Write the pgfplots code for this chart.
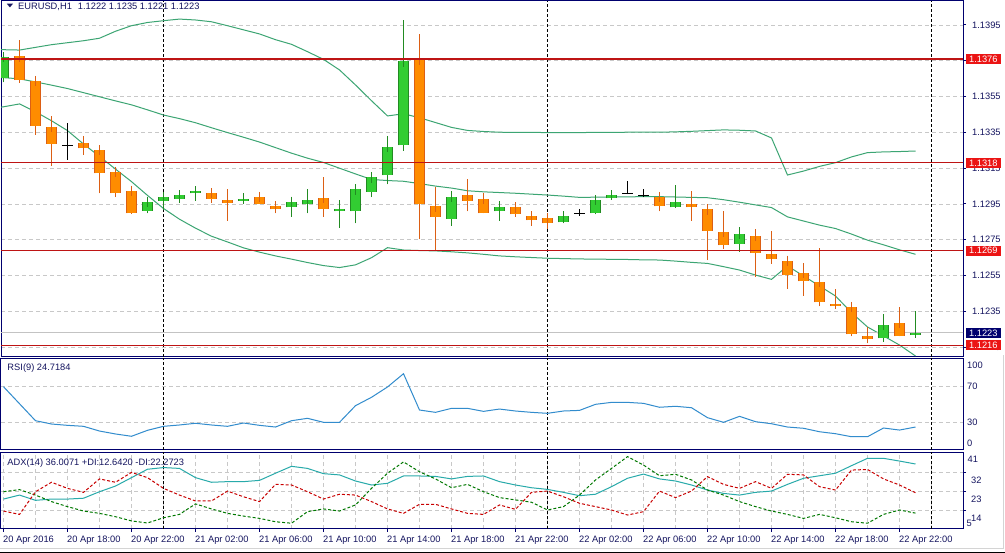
\documentclass[border=0pt]{standalone}
\usepackage{pgfplots}
\pgfplotsset{compat=1.18}
\usepackage{pgfplotstable}
\usepackage{fontspec}
\setmainfont{Liberation Sans}
\newcommand\cf{\fontsize{9.3}{11}\selectfont}
\definecolor{navyc}{RGB}{0,0,110}
\definecolor{txt}{RGB}{20,20,95}
\definecolor{gridc}{RGB}{200,200,200}
\definecolor{bullf}{RGB}{50,205,50}
\definecolor{bulll}{RGB}{34,139,34}
\definecolor{bearf}{RGB}{255,140,0}
\definecolor{bearl}{RGB}{220,95,20}
\definecolor{band}{RGB}{60,165,115}
\definecolor{lvl}{RGB}{190,20,20}
\definecolor{lblc}{RGB}{235,20,20}
\definecolor{rsic}{RGB}{50,140,205}
\definecolor{adxc}{RGB}{40,170,170}
\definecolor{pdic}{RGB}{0,120,0}
\definecolor{mdic}{RGB}{200,0,0}
\definecolor{bidc}{RGB}{195,195,195}
\definecolor{framec}{RGB}{212,212,212}

\pgfplotstableread{
i o h l c
0 1.13655 1.13790 1.13630 1.13770
9 1.12911 1.12980 1.12898 1.12962
10 1.12969 1.12991 1.12916 1.12988
11 1.12980 1.13013 1.12957 1.12999
12 1.13010 1.13051 1.12969 1.13021
15 1.12969 1.13010 1.12950 1.12980
18 1.12931 1.12977 1.12879 1.12962
19 1.12948 1.13032 1.12898 1.12973
21 1.12909 1.12973 1.12818 1.12922
22 1.12909 1.13035 1.12842 1.13032
23 1.13019 1.13121 1.12988 1.13099
24 1.13110 1.13330 1.13060 1.13267
25 1.13278 1.13978 1.13248 1.13747
28 1.12868 1.13021 1.12829 1.12988
31 1.12909 1.12950 1.12857 1.12935
35 1.12848 1.12898 1.12842 1.12881
37 1.12898 1.12984 1.12892 1.12971
38 1.12982 1.13021 1.12973 1.12999
42 1.12931 1.13054 1.12929 1.12959
46 1.12728 1.12824 1.12682 1.12782
55 1.12199 1.12335 1.12181 1.12274
57 1.12220 1.12350 1.12210 1.12230
}\bulltab

\pgfplotstableread{
i o h l c
1 1.13775 1.13866 1.13627 1.13642
2 1.13637 1.13648 1.13336 1.13388
3 1.13380 1.13441 1.13164 1.13287
5 1.13289 1.13330 1.13224 1.13261
6 1.13250 1.13270 1.13010 1.13121
7 1.13128 1.13135 1.12988 1.13010
8 1.13023 1.13025 1.12896 1.12898
13 1.13010 1.13025 1.12957 1.12980
14 1.12971 1.13032 1.12857 1.12957
16 1.12988 1.12990 1.12950 1.12950
17 1.12937 1.12962 1.12898 1.12920
20 1.12982 1.13099 1.12879 1.12920
26 1.13758 1.13900 1.12752 1.12950
27 1.12937 1.13047 1.12693 1.12879
29 1.12999 1.13088 1.12909 1.12969
30 1.12980 1.13010 1.12898 1.12898
32 1.12931 1.12962 1.12879 1.12892
33 1.12881 1.12901 1.12829 1.12859
34 1.12870 1.12871 1.12809 1.12842
41 1.12988 1.12999 1.12909 1.12937
43 1.12950 1.13023 1.12857 1.12931
44 1.12920 1.12921 1.12637 1.12798
45 1.12794 1.12911 1.12699 1.12719
47 1.12771 1.12811 1.12544 1.12678
48 1.12671 1.12800 1.12615 1.12641
49 1.12632 1.12660 1.12477 1.12551
50 1.12563 1.12619 1.12438 1.12518
51 1.12513 1.12704 1.12378 1.12400
52 1.12391 1.12473 1.12376 1.12378
53 1.12374 1.12391 1.12211 1.12222
54 1.12211 1.12261 1.12172 1.12194
56 1.12284 1.12376 1.12210 1.12211
}\beartab

\pgfplotstableread{
i o h l c
4 1.13276 1.13401 1.13196 1.13276
36 1.12898 1.12920 1.12883 1.12898
39 1.13010 1.13077 1.13004 1.13010
40 1.12999 1.13032 1.12988 1.12999
}\dojitab

\pgfplotstableread{
i up mid lo
-1 1.13816 1.13662 1.13480
0 1.13812 1.13656 1.13493
1 1.13810 1.13649 1.13509
2 1.13825 1.13632 1.13465
3 1.13840 1.13614 1.13415
4 1.13851 1.13595 1.13360
5 1.13862 1.13572 1.13285
6 1.13876 1.13549 1.13216
7 1.13915 1.13526 1.13145
8 1.13946 1.13504 1.13075
9 1.13964 1.13476 1.12998
10 1.13974 1.13447 1.12925
11 1.13983 1.13427 1.12865
12 1.13978 1.13404 1.12815
13 1.13968 1.13376 1.12770
14 1.13946 1.13349 1.12738
15 1.13923 1.13323 1.12705
16 1.13900 1.13296 1.12681
17 1.13868 1.13265 1.12660
18 1.13842 1.13234 1.12642
19 1.13801 1.13206 1.12623
20 1.13758 1.13182 1.12606
21 1.13699 1.13150 1.12595
22 1.13615 1.13118 1.12610
23 1.13527 1.13087 1.12650
24 1.13442 1.13081 1.12706
25 1.13454 1.13077 1.12693
26 1.13432 1.13064 1.12690
27 1.13405 1.13050 1.12688
28 1.13378 1.13039 1.12683
29 1.13361 1.13024 1.12677
30 1.13355 1.13018 1.12669
31 1.13351 1.13014 1.12660
32 1.13350 1.13010 1.12655
33 1.13350 1.13005 1.12651
34 1.13349 1.13000 1.12647
35 1.13349 1.12994 1.12645
36 1.13349 1.12987 1.12643
37 1.13350 1.12988 1.12642
38 1.13350 1.12989 1.12641
39 1.13351 1.12990 1.12640
40 1.13351 1.12991 1.12638
41 1.13351 1.12991 1.12637
42 1.13353 1.12989 1.12631
43 1.13356 1.12987 1.12624
44 1.13360 1.12985 1.12618
45 1.13364 1.12974 1.12600
46 1.13362 1.12960 1.12581
47 1.13358 1.12945 1.12553
48 1.13319 1.12930 1.12529
49 1.13112 1.12878 1.12604
50 1.13134 1.12855 1.12548
51 1.13160 1.12832 1.12492
52 1.13181 1.12813 1.12436
53 1.13213 1.12782 1.12343
54 1.13237 1.12748 1.12263
55 1.13241 1.12722 1.12213
56 1.13243 1.12694 1.12162
57 1.13246 1.12669 1.12101
}\bandtab

\pgfplotstableread{
i v
0 70.0
1 50.9
2 31.8
3 28.1
4 26.6
5 25.5
6 20.2
7 16.9
8 14.3
9 21.0
10 25.5
11 27.0
12 28.9
13 27.0
14 25.5
15 29.2
16 26.6
17 24.7
18 31.8
19 34.5
20 30.0
21 30.0
22 48.7
23 58.1
24 69.7
25 84.6
26 43.8
27 41.2
28 45.7
29 45.7
30 42.3
31 44.9
32 42.7
33 41.2
34 40.1
35 42.7
36 43.4
37 50.2
38 52.4
39 52.4
40 51.3
41 46.9
42 48.0
43 46.4
44 35.2
45 30.0
46 36.7
47 30.7
48 28.4
49 24.7
50 23.3
51 19.4
52 17.2
53 13.8
54 13.8
55 23.6
56 21.3
57 24.7
}\rsitab

\pgfplotstableread{
i adx pdi mdi
0 19.3 22.8 13.6
1 21.2 23.8 12.0
2 18.7 21.2 22.8
3 19.3 18.1 27.3
4 19.3 15.7 24.4
5 19.7 13.6 22.5
6 22.8 12.5 28.9
7 25.5 10.9 27.3
8 29.5 8.9 32.0
9 33.5 7.9 29.5
10 34.3 10.4 24.4
11 33.9 12.0 21.2
12 29.5 17.0 18.4
13 27.3 14.6 18.4
14 27.6 12.5 23.1
15 27.6 11.2 20.4
16 28.2 10.1 18.1
17 31.6 8.5 26.3
18 34.9 7.8 26.0
19 33.9 13.3 22.8
20 31.4 14.6 19.3
21 30.8 13.6 21.6
22 27.9 16.5 21.2
23 26.0 24.4 18.1
24 26.8 31.6 14.6
25 30.3 37.0 12.5
26 30.3 32.3 16.8
27 30.1 28.9 16.8
28 28.9 24.7 14.6
29 30.1 26.3 12.5
30 30.3 22.8 12.0
31 27.6 20.0 16.5
32 26.0 18.9 14.4
33 24.7 17.8 22.5
34 23.9 14.1 23.1
35 22.5 15.7 20.4
36 20.9 21.2 17.3
37 21.6 28.4 15.7
38 25.2 33.9 14.1
39 29.2 39.5 11.7
40 31.2 35.5 13.3
41 28.9 30.4 23.1
42 27.9 31.1 20.0
43 26.0 28.4 23.1
44 23.6 23.6 30.0
45 22.0 21.2 26.3
46 21.2 18.1 24.4
47 22.5 15.7 27.6
48 23.1 13.6 24.4
49 26.3 12.0 31.1
50 29.2 10.1 30.8
51 30.4 12.0 25.2
52 31.6 10.4 23.6
53 35.2 8.5 33.1
54 38.7 7.8 33.4
55 38.7 12.0 28.9
56 37.4 14.1 26.0
57 36.0 12.6 22.3
}\adxtab

\tikzset{pricelbl/.style={fill=#1, text=white, font=\cf, inner xsep=3.4pt, inner ysep=1.7pt, anchor=west, xshift=2.5pt}}

\pgfplotsset{
 panel/.style={
  scale only axis, width=962pt,
  xmin=-0.15625, xmax=59.96875,
  axis line style={navyc, line width=1pt},
  clip mode=individual,
  tick label style={font=\cf, text=txt},
  ytick pos=right, yticklabel pos=right,
  tick align=outside,
  major tick style={navyc, line width=1pt},
  major tick length=3pt, minor tick length=0pt,
  minor grid style={gridc, line width=0.8pt, dash pattern=on 4pt off 3pt},
  major grid style={gridc, line width=0.8pt, dash pattern=on 4pt off 3pt},
  ymajorgrids, xminorgrids,
  minor xtick={0,2,...,58},
  extra x ticks={10,34,58},
  extra x tick labels={},
  extra x tick style={grid=major, major grid style={black, line width=1pt, dash pattern=on 3pt off 2pt}, major tick length=0pt},
  yticklabel style={anchor=west, inner sep=0pt},
 },
 hid/.style={only marks, mark=*, mark size=0.01pt, mark options={draw=none, fill=none, opacity=0}, forget plot},
 wick/.style={hid, error bars/.cd, y dir=plus, y explicit, error mark=none, error bar style={draw=#1, opacity=1, line width=1pt}},
 bodyout/.style={hid, error bars/.cd, y dir=plus, y explicit, error mark=none, error bar style={draw=#1, opacity=1, line width=10.4pt}},
 bodyin/.style 2 args={hid, error bars/.cd, y dir=plus, y explicit, error mark=-, error mark options={draw=#2, opacity=1, line width=1pt, mark size=5.2pt}, error bar style={draw=#1, opacity=1, line width=8.4pt}},
}

\begin{document}
\begin{tikzpicture}
\useasboundingbox (0pt,0pt) rectangle (1005pt,553pt);
\fill[white] (0pt,0pt) rectangle (1005pt,553pt);

% ---------- main price panel ----------
\begin{axis}[panel, at={(1pt,196pt)}, anchor=south west, height=356pt,
  ymin=1.120953, ymax=1.140841,
  xtick=\empty,
  ytick={1.1215,1.1235,1.1255,1.1275,1.1295,1.1315,1.1335,1.1355,1.1375,1.1395},
  yticklabels={1.1215,1.1235,1.1255,1.1275,1.1295,1.1315,1.1335,1.1355,1.1375,1.1395},
  yticklabel style={xshift=6pt},
]
\addplot[band, line width=1pt, mark=none] table[x=i, y=up] {\bandtab};
\addplot[band, line width=1pt, mark=none] table[x=i, y=mid] {\bandtab};
\addplot[band, line width=1pt, mark=none] table[x=i, y=lo] {\bandtab};
\addplot[bidc, line width=1pt, mark=none] coordinates {(-1,1.1223) (61,1.1223)};
% bull candles
\addplot[wick=bulll] table[x=i, y=l, y error expr=\thisrow{h}-\thisrow{l}] {\bulltab};
\addplot[bodyout=bulll] table[x=i, y=o, y error expr=\thisrow{c}-\thisrow{o}] {\bulltab};
\addplot[bodyin={bullf}{bulll}] table[x=i, y=o, y error expr=\thisrow{c}-\thisrow{o}] {\bulltab};
% bear candles
\addplot[wick=bearl] table[x=i, y=l, y error expr=\thisrow{h}-\thisrow{l}] {\beartab};
\addplot[bodyout=bearl] table[x=i, y=c, y error expr=\thisrow{o}-\thisrow{c}] {\beartab};
\addplot[bodyin={bearf}{bearl}] table[x=i, y=c, y error expr=\thisrow{o}-\thisrow{c}] {\beartab};
% doji
\addplot[wick=black] table[x=i, y=l, y error expr=\thisrow{h}-\thisrow{l}] {\dojitab};
\addplot[only marks, mark=-, mark size=5.2pt, mark options={draw=black, line width=1pt}, forget plot] table[x=i, y=o] {\dojitab};
% levels
\addplot[lvl, line width=1.1pt, mark=none] coordinates {(-1,1.1376) (61,1.1376)};
\addplot[lvl, line width=1.1pt, mark=none] coordinates {(-1,1.1318) (61,1.1318)};
\addplot[lvl, line width=1.1pt, mark=none] coordinates {(-1,1.1269) (61,1.1269)};
\addplot[lvl, line width=1.1pt, mark=none] coordinates {(-1,1.1216) (61,1.1216)};
\node[pricelbl=lblc] at (axis cs:59.96875,1.1376) {1.1376};
\node[pricelbl=lblc] at (axis cs:59.96875,1.1318) {1.1318};
\node[pricelbl=lblc] at (axis cs:59.96875,1.1269) {1.1269};
\node[pricelbl=lblc] at (axis cs:59.96875,1.1216) {1.1216};
\node[pricelbl=navyc] at (axis cs:59.96875,1.1223) {1.1223};
\end{axis}

% ---------- RSI panel ----------
\begin{axis}[panel, at={(1pt,103pt)}, anchor=south west, height=91.5pt,
  ymin=-1.1, ymax=101.7,
  xtick=\empty, major tick length=0pt,
  ytick={30,70}, yticklabels={30,70},
  yticklabel style={xshift=4pt},
]
\addplot[rsic, line width=1pt, mark=none] table[x=i, y=v] {\rsitab};
\end{axis}

% ---------- ADX panel ----------
\begin{axis}[panel, at={(1pt,24pt)}, anchor=south west, height=76.5pt,
  ymin=5.05, ymax=41.48,
  xtick={0,4,...,56}, xtick pos=bottom, xmajorgrids,
  xticklabels={20 Apr 2016, 20 Apr 18:00, 20 Apr 22:00, 21 Apr 02:00, 21 Apr 06:00, 21 Apr 10:00, 21 Apr 14:00, 21 Apr 18:00, 21 Apr 22:00, 22 Apr 02:00, 22 Apr 06:00, 22 Apr 10:00, 22 Apr 14:00, 22 Apr 18:00, 22 Apr 22:00},
  xticklabel style={anchor=base west, inner sep=0pt, xshift=-0.5pt, yshift=-11pt},
  ytick={14,23,32}, yticklabels={14,23,32},
  yticklabel style={xshift=5pt, yshift=-8pt},
]
\addplot[adxc, line width=1pt, mark=none] table[x=i, y=adx] {\adxtab};
\addplot[pdic, line width=1pt, mark=none, dash pattern=on 3pt off 2pt] table[x=i, y=pdi] {\adxtab};
\addplot[mdic, line width=1pt, mark=none, dash pattern=on 3pt off 2pt] table[x=i, y=mdi] {\adxtab};
\end{axis}

% ---------- texts ----------
\fill[txt] (6.8pt,549.3pt) -- (13pt,549.3pt) -- (9.9pt,545.6pt) -- cycle;
\node[anchor=base west, font=\cf, text=txt, inner sep=0pt] at (18pt,543.7pt) {EURUSD,H1\hspace{6pt}1.1222 1.1235 1.1221 1.1223};
\node[anchor=base west, font=\cf, text=txt, inner sep=0pt] at (7.3pt,182pt) {RSI(9) 24.7184};
\node[anchor=base west, font=\cf, text=txt, inner sep=0pt] at (7.3pt,87.5pt) {ADX(14) 36.0071 +DI:12.6420 -DI:22.2723};
\node[anchor=west, font=\cf, text=txt, inner sep=0pt] at (967pt,187.3pt) {100};
\node[anchor=west, font=\cf, text=txt, inner sep=0pt] at (967pt,109.7pt) {0};
\node[anchor=west, font=\cf, text=txt, inner sep=0pt] at (967.5pt,94pt) {41};
\node[anchor=west, font=\cf, text=txt, inner sep=0pt] at (966.5pt,30pt) {5};
\draw[framec, line width=1pt] (0pt,4.5pt) -- (1003pt,4.5pt) -- (1003pt,198pt);
\draw[black, line width=1pt] (0pt,0.8pt) -- (1005pt,0.8pt);
\end{tikzpicture}
\end{document}
